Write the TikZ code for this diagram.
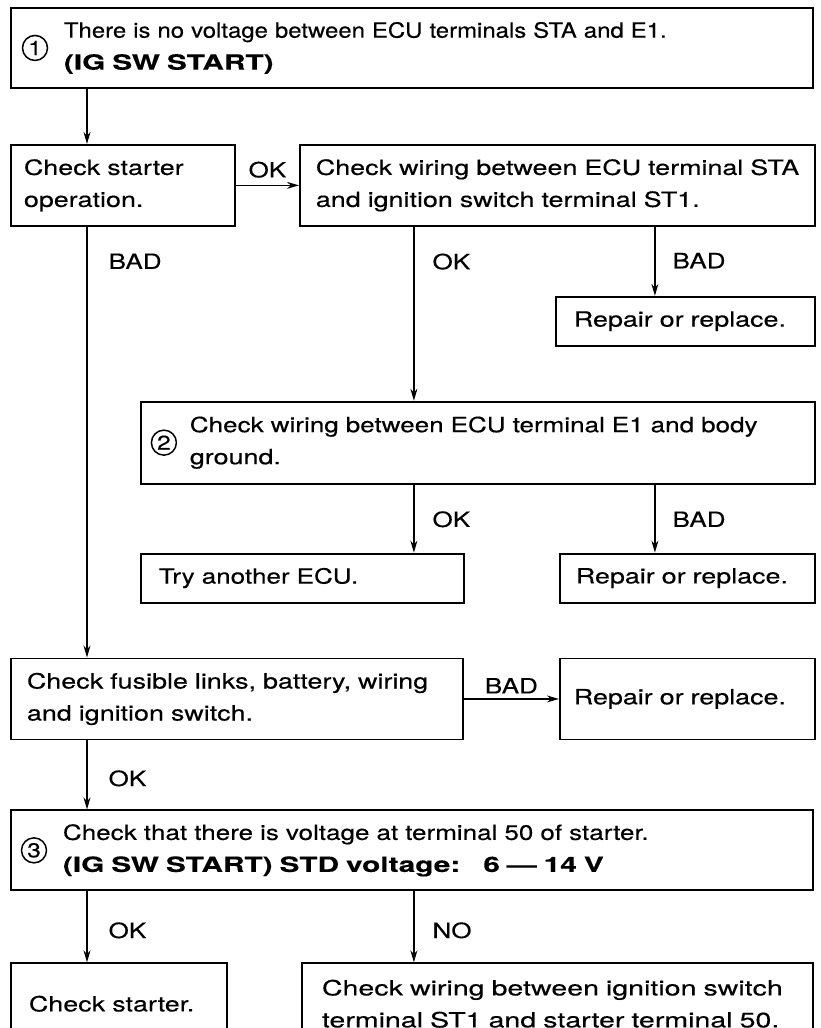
\documentclass[tikz,border=0pt]{standalone}
\usepackage{fontspec}
\usetikzlibrary{arrows.meta,positioning,calc}
\newfontfamily\manual[FakeStretch=1.28,FakeBold=0.3,BoldFeatures={FakeStretch=1.42}]{TeX Gyre Heros}
\newfontfamily\manualnarrow[FakeStretch=1.24,FakeBold=0.3]{TeX Gyre Heros}
\newfontfamily\manualtight[FakeStretch=1.14,FakeBold=0.3]{TeX Gyre Heros}
\newfontfamily\manualwide[FakeStretch=1.36,FakeBold=0.3]{TeX Gyre Heros}

\begin{document}
\begin{tikzpicture}[
  font=\manual\fontsize{21pt}{32pt}\selectfont, >={Stealth[length=12pt,width=7pt]},
  blk/.style={draw, line width=1.9pt, anchor=north west, align=left, inner xsep=0pt, inner ysep=0pt},
  ind/.style={execute at begin node={\leftskip=#1\rightskip=-40pt plus 1fil}},
  num/.style={circle, draw, line width=1.5pt, minimum size=25pt, inner sep=0pt, font=\manualnarrow\fontsize{20pt}{20pt}\selectfont},
  pw/.style={->, line width=1.2pt},
  lbl/.style={inner sep=0pt, font=\manualnarrow\fontsize{21pt}{21pt}\selectfont}]
\useasboundingbox (0,0) rectangle (820pt,-1028pt);
\node[blk, text width=802pt, ind=53pt, minimum height=80pt] (fault) at (10pt,-7pt)
  {{\manualtight There is no voltage between ECU terminals STA and E1.}\\\textbf{(IG SW START)}};
\node[num] (n1) at ($(fault.west)+(25pt,0)$) {1};
\node[blk, text width=224pt, ind=13pt, minimum height=81pt] (starter) at ($(fault.south west)+(0,-55pt)$)
  {Check starter\\operation.};
\node[blk, text width=515pt, ind=16pt, minimum height=81pt, right=63pt of starter] (wiresta)
  {Check wiring between ECU terminal STA\\and ignition switch terminal ST1.};
\node[blk, anchor=north east, text width=259pt, ind=18pt, minimum height=49pt] (repair1) at ($(wiresta.south east)+(0,-69pt)$)
  {Repair or replace.};
\node[blk, anchor=north east, text width=674pt, ind=49pt, minimum height=82pt] (ground) at ($(repair1.south east)+(0,-54pt)$)
  {{\manualnarrow Check wiring between ECU terminal E1 and body}\\ground.};
\node[num] (n2) at ($(ground.west)+(24pt,0)$) {2};
\node[blk, text width=323pt, ind=18pt, minimum height=49pt] (tryecu) at ($(ground.south west)+(0,-68pt)$)
  {{\manualnarrow Try another ECU.}};
\node[blk, anchor=north east, text width=255pt, ind=16pt, minimum height=49pt] (repair2) at ($(ground.south east)+(0,-68pt)$)
  {Repair or replace.};
\node[blk, text width=452pt, ind=16pt, minimum height=81pt] (fusible) at ($(tryecu.south -| fault.west)+(0,-54pt)$)
  {Check fusible links, battery, wiring\\and ignition switch.};
\node[blk, anchor=north east, text width=255pt, ind=14pt, minimum height=81pt] (repair3) at ($(repair2.south east)+(0,-54pt)$)
  {Repair or replace.};
\node[blk, text width=802pt, ind=52pt, minimum height=80pt] (voltage) at ($(fusible.south west)+(0,-69pt)$)
  {{\manualnarrow Check that there is voltage at terminal 50 of starter.}\\\textbf{(IG SW START) STD voltage:\hspace{1.1em}6 — 14 V}};
\node[num] (n3) at ($(voltage.west)+(24pt,0)$) {3};
\node[blk, text width=216pt, ind=18pt, minimum height=81pt] (checkst) at ($(voltage.south west)+(0,-71pt)$)
  {Check starter.};
\node[blk, anchor=north east, text width=511pt, ind=20pt, minimum height=81pt, font=\manualwide\fontsize{21pt}{32pt}\selectfont] (wiring2) at ($(voltage.south east)+(0,-71pt)$)
  {Check wiring between ignition switch\\terminal ST1 and starter terminal 50.};
% flow lines
\coordinate (colA) at ($(fault.south west)+(77pt,0)$);
\coordinate (colB) at ($(wiresta.south west)+(115pt,0)$);
\coordinate (colC) at ($(wiresta.south west)+(356pt,0)$);
\draw[pw] (fault.south -| colA) -- (starter.north -| colA);
\draw[pw] (starter) -- node[lbl, above=7pt] {OK} (wiresta);
\draw[pw] (starter.south -| colA) -- node[lbl, pos=0.08, right=21pt] {BAD} (fusible.north -| colA);
\draw[pw] (wiresta.south -| colB) -- node[lbl, pos=0.2, right=18pt] {OK} (ground.north -| colB);
\draw[pw] (wiresta.south -| colC) -- node[lbl, pos=0.49, right=17pt] {BAD} (repair1.north -| colC);
\draw[pw] (ground.south -| colB) -- node[lbl, pos=0.51, right=18pt] {OK} (tryecu.north -| colB);
\draw[pw] (ground.south -| colC) -- node[lbl, pos=0.51, right=17pt] {BAD} (repair2.north -| colC);
\draw[pw] (fusible) -- node[lbl, above=5pt] {BAD} (repair3);
\draw[pw] (fusible.south -| colA) -- node[lbl, pos=0.55, right=21pt] {OK} (voltage.north -| colA);
\draw[pw] (voltage.south -| colA) -- node[lbl, pos=0.55, right=21pt] {OK} (checkst.north -| colA);
\draw[pw] (voltage.south -| colB) -- node[lbl, pos=0.55, right=18pt] {NO} (wiring2.north -| colB);
\end{tikzpicture}
\end{document}
